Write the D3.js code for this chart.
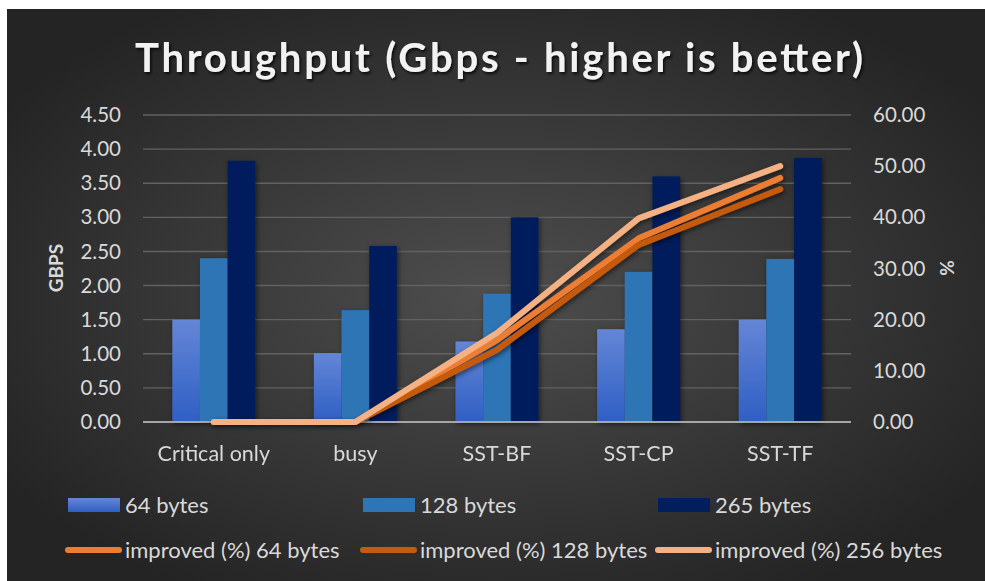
<!DOCTYPE html>
<html>
<head>
<meta charset="utf-8">
<script src="https://cdn.jsdelivr.net/npm/d3@7.9.0/dist/d3.min.js"></script>
<style>
  html, body { margin: 0; padding: 0; background: #fff; }
  svg { display: block; font-family: Lato, "Open Sans", sans-serif; }
</style>
</head>
<body>
<div id="chart"></div>
<script>
const categories = ['Critical only', 'busy', 'SST-BF', 'SST-CP', 'SST-TF'];
const barSeries = ['64 bytes', '128 bytes', '265 bytes'];
const bytes64 = [1.50, 1.01, 1.18, 1.36, 1.50];
const bytes128 = [2.40, 1.64, 1.88, 2.20, 2.39];
const bytes265 = [3.83, 2.58, 3.00, 3.60, 3.87];
const lineSeries = ['improved (%) 64 bytes', 'improved (%) 128 bytes', 'improved (%) 256 bytes'];
const improved64 = [0, 0, 16.0, 35.9, 47.7];
const improved128 = [0, 0, 14.1, 34.6, 45.5];
const improved256 = [0, 0, 17.4, 39.8, 50.0];
const leftTicks = [0, 0.5, 1, 1.5, 2, 2.5, 3, 3.5, 4, 4.5];
const rightTicks = [0, 10, 20, 30, 40, 50, 60];

const W = 985, H = 581;
const plot = { left: 143, right: 851, top: 115, bottom: 422 };

const svg = d3.select('#chart').append('svg')
  .attr('width', W).attr('height', H);

const defs = svg.append('defs');
const bg = defs.append('radialGradient').attr('id', 'bg')
  .attr('cx', '50%').attr('cy', '50%').attr('r', '60%');
bg.append('stop').attr('offset', '0%').attr('stop-color', '#4e4e4e');
bg.append('stop').attr('offset', '100%').attr('stop-color', '#242424');

const g64 = defs.append('linearGradient').attr('id', 'g64')
  .attr('x1', 0).attr('y1', 0).attr('x2', 0).attr('y2', 1);
g64.append('stop').attr('offset', '0%').attr('stop-color', '#6486d6');
g64.append('stop').attr('offset', '100%').attr('stop-color', '#2f5fc4');

const shadow = defs.append('filter').attr('id', 'shadow')
  .attr('x', '-30%').attr('y', '-30%').attr('width', '160%').attr('height', '160%');
shadow.append('feDropShadow').attr('dx', 1.5).attr('dy', 2).attr('stdDeviation', 2.5)
  .attr('flood-color', '#000').attr('flood-opacity', 0.55);

const tshadow = defs.append('filter').attr('id', 'tshadow');
tshadow.append('feDropShadow').attr('dx', 1.5).attr('dy', 2).attr('stdDeviation', 1.5)
  .attr('flood-color', '#000').attr('flood-opacity', 0.8);

svg.append('rect').attr('x', 7).attr('y', 9).attr('width', W - 7).attr('height', H - 9)
  .attr('fill', 'url(#bg)');

// title
svg.append('text')
  .attr('x', 499).attr('y', 72)
  .attr('text-anchor', 'middle')
  .attr('fill', '#f2f2f2')
  .attr('font-size', 40).attr('font-weight', 700)
  .attr('textLength', 728).attr('lengthAdjust', 'spacing')
  .attr('filter', 'url(#tshadow)')
  .text('Throughput (Gbps - higher is better)');

// scales
const x0 = d3.scaleBand().domain(categories).range([plot.left, plot.right]);
const x1 = d3.scaleBand().domain(barSeries).range([0, x0.bandwidth()]).paddingOuter(1.06);
const yL = d3.scaleLinear().domain([0, 4.5]).range([plot.bottom, plot.top]);
const yR = d3.scaleLinear().domain([0, 60]).range([plot.bottom, plot.top]);

// gridlines
svg.append('g').selectAll('line').data(leftTicks.slice(1)).join('line')
  .attr('x1', plot.left).attr('x2', plot.right)
  .attr('y1', d => yL(d)).attr('y2', d => yL(d))
  .attr('stroke', '#626262').attr('stroke-width', 1.4);

// left axis
const axisL = svg.append('g').attr('transform', `translate(${plot.left - 22},0)`)
  .call(d3.axisLeft(yL).tickValues(leftTicks).tickFormat(d3.format('.2f')).tickSize(0).tickPadding(0));
axisL.select('.domain').remove();
axisL.selectAll('text').attr('fill', '#d9d9d9').attr('font-size', 20.5)
  .attr('font-family', 'Lato, sans-serif');

// right axis
const axisR = svg.append('g').attr('transform', `translate(${plot.right + 22},0)`)
  .call(d3.axisRight(yR).tickValues(rightTicks).tickFormat(d3.format('.2f')).tickSize(0).tickPadding(0));
axisR.select('.domain').remove();
axisR.selectAll('text').attr('fill', '#d9d9d9').attr('font-size', 20.5)
  .attr('font-family', 'Lato, sans-serif');

svg.append('text')
  .attr('transform', `translate(63,268) rotate(-90)`)
  .attr('text-anchor', 'middle')
  .attr('fill', '#d9d9d9').attr('font-size', 19).attr('font-weight', 700)
  .text('GBPS');

svg.append('text')
  .attr('transform', `translate(954,268) rotate(-90)`)
  .attr('text-anchor', 'middle')
  .attr('fill', '#d9d9d9').attr('font-size', 19).attr('font-weight', 700)
  .text('%');

// bars
const barData = [bytes64, bytes128, bytes265];
const barFill = ['url(#g64)', '#2e75b6', '#001f5c'];
const groups = svg.append('g').attr('filter', 'url(#shadow)')
  .selectAll('g').data(categories).join('g')
  .attr('transform', d => `translate(${x0(d)},0)`);
groups.selectAll('rect')
  .data((c, i) => barSeries.map((s, k) => ({ s, k, v: barData[k][i] })))
  .join('rect')
  .attr('x', d => x1(d.s))
  .attr('width', x1.bandwidth())
  .attr('y', d => yL(d.v))
  .attr('height', d => yL(0) - yL(d.v))
  .attr('fill', d => barFill[d.k]);

// x axis baseline
svg.append('line')
  .attr('x1', plot.left).attr('x2', plot.right)
  .attr('y1', plot.bottom).attr('y2', plot.bottom)
  .attr('stroke', '#a6a6a6').attr('stroke-width', 2);

// category labels
svg.append('g').selectAll('text').data(categories).join('text')
  .attr('x', d => x0(d) + x0.bandwidth() / 2)
  .attr('y', 461)
  .attr('text-anchor', 'middle')
  .attr('fill', '#d9d9d9').attr('font-size', 21.5)
  .text(d => d);

// lines
const lineData = [improved64, improved128, improved256];
const lineColors = ['#ed7d31', '#c55a11', '#f4b183'];
const line = d3.line()
  .x((d, i) => x0(categories[i]) + x0.bandwidth() / 2)
  .y(d => yR(d));
svg.append('g').attr('filter', 'url(#shadow)')
  .selectAll('path').data(lineData).join('path')
  .attr('d', line)
  .attr('fill', 'none')
  .attr('stroke', (d, i) => lineColors[i])
  .attr('stroke-width', 6)
  .attr('stroke-linecap', 'round')
  .attr('stroke-linejoin', 'round');

// legend
const colX = [65, 360, 655];
const leg1 = svg.append('g').selectAll('g').data(barSeries).join('g')
  .attr('transform', (d, i) => `translate(${colX[i]},505)`);
leg1.append('rect').attr('x', 3).attr('y', -7).attr('width', 52).attr('height', 14)
  .attr('fill', (d, i) => barFill[i]);
leg1.append('text').attr('x', 60).attr('y', 7.5)
  .attr('fill', '#d9d9d9').attr('font-size', 22).text(d => d);

const leg2 = svg.append('g').selectAll('g').data(lineSeries).join('g')
  .attr('transform', (d, i) => `translate(${colX[i]},550)`);
leg2.append('line').attr('x1', 3).attr('x2', 54).attr('y1', 0).attr('y2', 0)
  .attr('stroke', (d, i) => lineColors[i]).attr('stroke-width', 6)
  .attr('stroke-linecap', 'round');
leg2.append('text').attr('x', 60).attr('y', 7.5)
  .attr('fill', '#d9d9d9').attr('font-size', 22).text(d => d);
</script>
</body>
</html>
